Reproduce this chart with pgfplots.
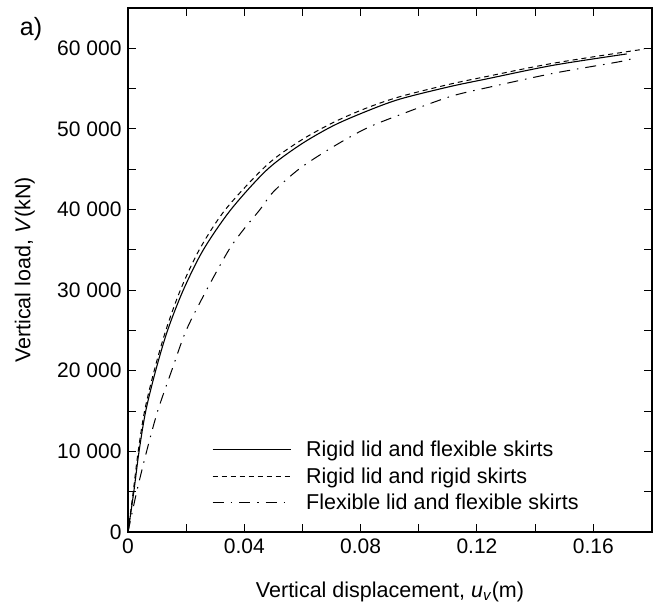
\documentclass[border=0pt]{standalone}
\usepackage{pgfplots}
\pgfplotsset{compat=1.18}
\usetikzlibrary{calc}
\usepackage{fontspec}
\setmainfont{Liberation Sans}
\begin{document}
\begin{tikzpicture}
\begin{axis}[
  name=ax,
  scale only axis,
  width=524bp, height=524bp,
  xmin=0, xmax=0.1802, ymin=0, ymax=65000,
  axis line style={line width=1.1bp},
  every tick/.style={line width=1bp, black},
  tick align=inside,
  major tick length=8bp, minor tick length=8bp,
  xtick={0,0.04,0.08,0.12,0.16},
  xticklabels={0,0.04,0.08,0.12,0.16},
  minor xtick={0.02,0.06,0.10,0.14},
  ytick={0,10000,20000,30000,40000,50000,60000},
  yticklabels={0,10 000,20 000,30 000,40 000,50 000,60 000},
  minor ytick={5000,15000,25000,35000,45000,55000},
  /pgf/number format/assume math mode=true,
  ticklabel style={font=\fontsize{21bp}{25bp}\selectfont},
  xticklabel style={yshift=-3bp},
  yticklabel style={xshift=-3bp},
  xlabel={Vertical displacement, \textit{u}\textsubscript{\textit{v}}(m)},
  ylabel={Vertical load, \textit{V}(kN)},
  label style={font=\fontsize{21.5bp}{25bp}\selectfont},
  xlabel style={at={(axis description cs:0.5,-0.1145)}, anchor=center},
  ylabel style={at={(axis description cs:-0.197,0.5)}, anchor=center},
  legend style={draw=none, fill=none, inner sep=0pt, at={(axis description cs:0.160,0.174)}, anchor=north west,
    font=\fontsize{21.5bp}{25bp}\selectfont, row sep=9.5bp, column sep=0pt},
  legend cell align=left,
  legend image code/.code={\draw[#1] (0bp,0bp) -- (78bp,0bp);},
  legend style={nodes={inner sep=0pt}},
  legend style={/tikz/every odd column/.style={inner xsep=0pt}, /tikz/every even column/.style={inner xsep=0pt}},
]
\addplot[black, line width=1.1bp, smooth, tension=0.5] coordinates {
(0,0)(0.002,5000)(0.0038,10000)(0.0061,15000)(0.0095,20000)(0.0136,25000)(0.019,30000)(0.0259,35000)(0.0354,40000)(0.0477,44900)(0.0591,48000)(0.0706,50400)(0.0821,52200)(0.0935,53700)(0.1107,55250)(0.1233,56200)(0.1463,57900)(0.1715,59300)
};
\addlegendentry{\hspace{15bp}Rigid lid and flexible skirts}
\addplot[black, line width=1bp, smooth, tension=0.5, dash pattern=on 5bp off 4bp] coordinates {
(0,0)(0.0018,5000)(0.0035,10000)(0.0057,15000)(0.009,20000)(0.013,25000)(0.018,30000)(0.0245,35000)(0.0335,40000)(0.0477,45500)(0.0591,48500)(0.0706,50800)(0.0821,52600)(0.0935,54000)(0.1107,55550)(0.1233,56500)(0.1463,58150)(0.1775,59900)
};
\addlegendentry{\hspace{15bp}Rigid lid and rigid skirts}
\addplot[black, line width=1bp, smooth, tension=0.5, dash pattern=on 11bp off 7bp on 1.5bp off 7bp] coordinates {
(0,0)(0.003,5000)(0.0064,10000)(0.0102,15000)(0.015,20000)(0.020,25000)(0.027,30000)(0.0347,35000)(0.0397,37500)(0.0454,40000)(0.05,42200)(0.0591,45100)(0.0706,47800)(0.0821,50100)(0.0935,51750)(0.1107,54000)(0.1233,55100)(0.1463,56900)(0.1692,58350)(0.1738,58800)
};
\addlegendentry{\hspace{15bp}Flexible lid and flexible skirts}
\end{axis}
\node[font=\fontsize{25bp}{29bp}\selectfont] at ($(ax.north west)+(-97bp,-21bp)$) {a)};
\pgfresetboundingbox
\path[use as bounding box] (ax.south west) ++(-128bp,-75bp) rectangle ($(ax.north east)+(9bp,8bp)$);
\end{tikzpicture}
\end{document}
